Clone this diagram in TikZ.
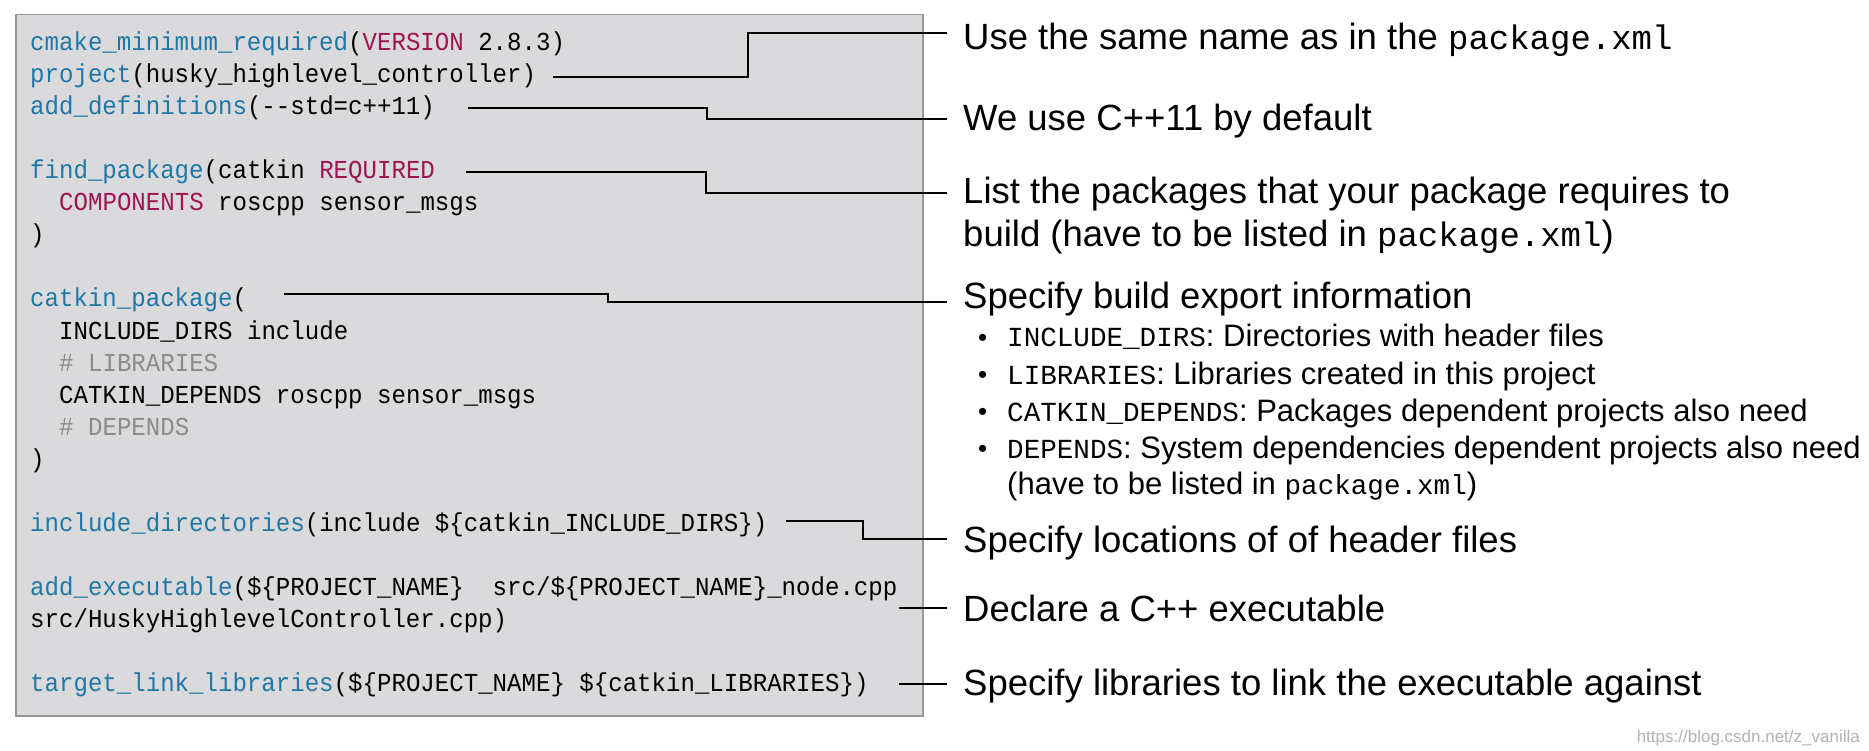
\documentclass[tikz,border=0pt]{standalone}
\usepackage{fontspec}
\setsansfont{Liberation Sans}
\setmonofont{Liberation Mono}
\newfontfamily\codefont[FakeStretch=0.93]{Liberation Mono}
\usetikzlibrary{calc}
\definecolor{kwblue}{RGB}{31,119,166}
\definecolor{kwred}{RGB}{158,21,82}
\definecolor{cmtgray}{RGB}{140,140,140}
\definecolor{panelfill}{RGB}{218,218,221}
\definecolor{panelline}{RGB}{150,150,150}
\newcommand\kb[1]{\textcolor{kwblue}{#1}}
\newcommand\kr[1]{\textcolor{kwred}{#1}}
\newcommand\mbig[1]{{\ttfamily\fontsize{34}{40}\selectfont #1}}
\newcommand\msmall[1]{{\ttfamily\fontsize{27.6}{32}\selectfont #1}}
\tikzset{
  codeline/.style={anchor=base west, inner sep=0pt, font=\codefont\fontsize{25.9}{30}\selectfont},
  annot/.style={anchor=base west, inner sep=0pt, font=\sffamily\fontsize{36.5}{44}\selectfont},
  subitem/.style={anchor=base west, inner sep=0pt, font=\sffamily\fontsize{31}{38}\selectfont},
  dotitem/.style={anchor=base west, inner sep=0pt, font=\sffamily\fontsize{26}{38}\selectfont},
  conn/.style={line width=2pt, black},
  panelbox/.style={draw=panelline, fill=panelfill, line width=1.5pt, anchor=north west, inner sep=0pt, minimum width=907pt, minimum height=701pt},
}
\begin{document}
\begin{tikzpicture}[x=1pt,y=-1pt]
\useasboundingbox (0,0) rectangle (1869,751);
\fill[white] (0,0) rectangle (1869,751);
\node[panelbox] (panel) at (15,14) {};

% code lines
\node[codeline] (c0) at (30,51) {\kb{cmake\_minimum\_required}(\kr{VERSION} 2.8.3)};
\node[codeline] (c1) at (30,83) {\kb{project}(husky\_highlevel\_controller)};
\node[codeline] (c2) at (30,115) {\kb{add\_definitions}(--std=c++11)};
\node[codeline] (c4) at (30,179) {\kb{find\_package}(catkin \kr{REQUIRED}};
\node[codeline] (c5) at (59,211) {\kr{COMPONENTS} roscpp sensor\_msgs};
\node[codeline] (c6) at (30,243) {)};
\node[codeline] (c8) at (30,307) {\kb{catkin\_package}(};
\node[codeline] (c9) at (59,339) {INCLUDE\_DIRS include};
\node[codeline] (c10) at (59,371) {\textcolor{cmtgray}{\# LIBRARIES}};
\node[codeline] (c11) at (59,403) {CATKIN\_DEPENDS roscpp sensor\_msgs};
\node[codeline] (c12) at (59,435) {\textcolor{cmtgray}{\# DEPENDS}};
\node[codeline] (c13) at (30,467) {)};
\node[codeline] (c15) at (30,531) {\kb{include\_directories}(include \$\{catkin\_INCLUDE\_DIRS\})};
\node[codeline] (c17) at (30,595) {\kb{add\_executable}(\$\{PROJECT\_NAME\} \ src/\$\{PROJECT\_NAME\}\_node.cpp};
\node[codeline] (c18) at (30,627) {src/HuskyHighlevelController.cpp)};
\node[codeline] (c20) at (30,691) {\kb{target\_link\_libraries}(\$\{PROJECT\_NAME\} \$\{catkin\_LIBRARIES\})};

% annotations
\node[annot] (a1) at (963,50) {Use the same name as in the \mbig{package.xml}};
\node[annot] (a2) at (963,131) {We use C++11 by default};
\node[annot] (a3) at (963,204) {List the packages that your package requires to};
\node[annot] (a3b) at (963,247) {build (have to be listed in \mbig{package.xml})};
\node[annot] (a4) at (963,309) {Specify build export information};
\node[dotitem] (d1) at (978,346) {•};
\node[subitem] (b1) at (1007,347) {\msmall{INCLUDE\_DIRS}: Directories with header files};
\node[dotitem] (d2) at (978,383) {•};
\node[subitem] (b2) at (1007,384) {\msmall{LIBRARIES}: Libraries created in this project};
\node[dotitem] (d3) at (978,420) {•};
\node[subitem] (b3) at (1007,421) {\msmall{CATKIN\_DEPENDS}: Packages dependent projects also need};
\node[dotitem] (d4) at (978,457) {•};
\node[subitem] (b4) at (1007,458) {\msmall{DEPENDS}: System dependencies dependent projects also need};
\node[subitem] (b5) at (1007,494) {(have to be listed in \msmall{package.xml})};
\node[annot] (a5) at (963,552) {Specify locations of of header files};
\node[annot] (a6) at (963,621) {Declare a C++ executable};
\node[annot] (a7) at (963,695) {Specify libraries to link the executable against};

\node[anchor=base east, inner sep=0pt, font=\sffamily\fontsize{17}{20}\selectfont, text=black!30] (wm) at (1860,742) {https://blog.csdn.net/z\_vanilla};

% connectors
\coordinate (v1) at (748,50);
\coordinate (v2) at (707,112);
\coordinate (v3) at (706,180);
\coordinate (v4) at (608,298);
\coordinate (v5) at (863,530);
\draw[conn] ($(c1.base east)+(17,-6)$) -| (v1) |- ($(a1.base west)+(-16,-17)$);
\draw[conn] ($(c2.base east)+(33,-7)$) -| (v2) |- ($(a2.base west)+(-16,-12)$);
\draw[conn] ($(c4.base east)+(31,-7)$) -| (v3) |- ($(a3.base west)+(-16,-11)$);
\draw[conn] ($(c8.base east)+(37,-13)$) -| (v4) |- ($(a4.base west)+(-16,-7)$);
\draw[conn] ($(c15.base east)+(18,-10)$) -| (v5) |- ($(a5.base west)+(-16,-13)$);
\draw[conn] ($(c17.base east)+(1,13)$) -- ($(a6.base west)+(-16,-13)$);
\draw[conn] ($(c20.base east)+(30,-7)$) -- ($(a7.base west)+(-16,-11)$);
\end{tikzpicture}
\end{document}
